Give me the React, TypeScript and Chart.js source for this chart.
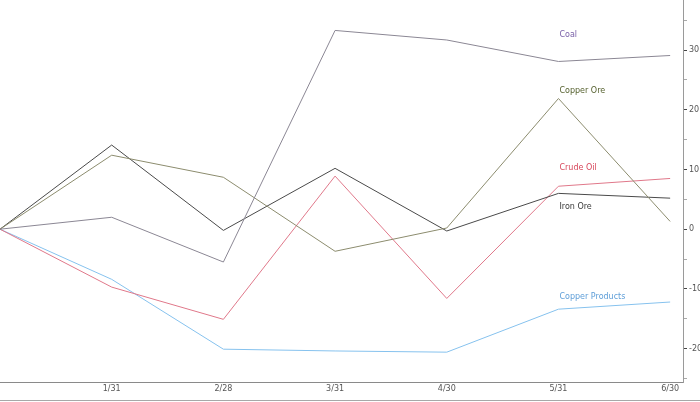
import React, { useEffect, useRef } from "react";
import { Chart, registerables } from "chart.js";

Chart.register(...registerables);

const categories = ["12/31", "1/31", "2/28", "3/31", "4/30", "5/31", "6/30"];
const coal = [0, 2.0, -5.5, 33.3, 31.7, 28.1, 29.1];
const copperOre = [0, 12.4, 8.7, -3.7, 0.2, 21.9, 1.3];
const ironOre = [0, 14.1, -0.2, 10.2, -0.3, 6.0, 5.2];
const crudeOil = [0, -9.7, -15.1, 8.9, -11.6, 7.2, 8.5];
const copperProducts = [0, -8.4, -20.1, -20.4, -20.6, -13.4, -12.2];

const seriesNames = ["Coal", "Copper Ore", "Iron Ore", "Crude Oil", "Copper Products"];
const labelValues = [32.5, 23.1, 3.7, 10.2, -11.4];
const labelIndex = 5;
const yTicks = [-25, -20, -15, -10, -5, 0, 5, 10, 15, 20, 25, 30, 35];

const lineColors = ["#8b8794", "#8c8c6e", "#4a4a4a", "#e0788a", "#86c2ee"];
const textColors = ["#7a60a8", "#55602e", "#3a3a3a", "#d8485c", "#5e9ed8"];

const labelPlugin = {
  id: "seriesLabels",
  afterDatasetsDraw(chart: any) {
    const { ctx, scales } = chart;
    ctx.save();
    ctx.font = "8px 'DejaVu Sans'";
    ctx.textAlign = "left";
    ctx.textBaseline = "middle";
    seriesNames.forEach((name, i) => {
      const x = scales.x.getPixelForValue(labelIndex) + 1;
      const y = scales.y.getPixelForValue(labelValues[i]);
      ctx.fillStyle = textColors[i];
      ctx.fillText(name, x, y);
    });
    ctx.restore();
  },
  afterDraw(chart: any) {
    const { ctx } = chart;
    ctx.save();
    ctx.strokeStyle = "#a8a8a8";
    ctx.lineWidth = 1;
    ctx.beginPath();
    ctx.moveTo(0, 400.5);
    ctx.lineTo(chart.width, 400.5);
    ctx.stroke();
    ctx.restore();
  },
};

export default function App() {
  const ref = useRef<HTMLCanvasElement>(null);
  useEffect(() => {
    document.body.style.margin = "0";
    const allSeries = [coal, copperOre, ironOre, crudeOil, copperProducts];
    const chart = new Chart(ref.current as HTMLCanvasElement, {
      type: "line",
      data: {
        datasets: allSeries.map((s, i) => ({
          label: seriesNames[i],
          data: s.map((v, j) => ({ x: j, y: v })),
          borderColor: lineColors[i],
          borderWidth: 1,
          pointRadius: 0,
          tension: 0,
          fill: false,
        })),
      },
      options: {
        animation: false,
        responsive: false,
        devicePixelRatio: 1,
        layout: { padding: 0 },
        plugins: { legend: { display: false }, tooltip: { enabled: false } },
        scales: {
          x: {
            type: "linear",
            min: 0,
            max: 6.115,
            position: "bottom",
            afterBuildTicks: (scale: any) => {
              scale.ticks = categories.map((_, i) => ({ value: i }));
            },
            afterFit: (scale: any) => {
              scale.height = 20;
              scale.paddingLeft = 0;
              scale.paddingRight = 0;
            },
            ticks: {
              autoSkip: false,
              maxRotation: 0,
              padding: 2,
              color: "#555",
              font: { family: "'DejaVu Sans'", size: 8 },
              callback: (v: any) => (v === 0 ? "" : categories[v as number] ?? ""),
            },
            grid: { drawOnChartArea: false, drawTicks: false },
            border: { color: "#8a8a8a" },
          },
          y: {
            type: "linear",
            position: "right",
            min: -25.6,
            max: 38.4,
            afterBuildTicks: (scale: any) => {
              scale.ticks = yTicks.map((v) => ({ value: v }));
            },
            afterFit: (scale: any) => {
              scale.width = 17;
              scale.paddingTop = 0;
              scale.paddingBottom = 0;
            },
            ticks: {
              padding: 2,
              color: "#555",
              font: { family: "'DejaVu Sans'", size: 8 },
              callback: (v: any) => ((v as number) % 10 === 0 ? String(v) : ""),
            },
            grid: {
              drawOnChartArea: false,
              drawTicks: true,
              tickLength: 4,
              color: (c: any) => (c.tick && c.tick.value % 10 === 0 ? "#444" : "#aaa"),
            },
            border: { color: "#9a9a9a" },
          },
        },
      },
      plugins: [labelPlugin],
    } as any);
    return () => chart.destroy();
  }, []);
  return (
    <div style={{ position: "absolute", left: 0, top: 0, width: 700, height: 402 }}>
      <canvas ref={ref} width={700} height={402} />
    </div>
  );
}
